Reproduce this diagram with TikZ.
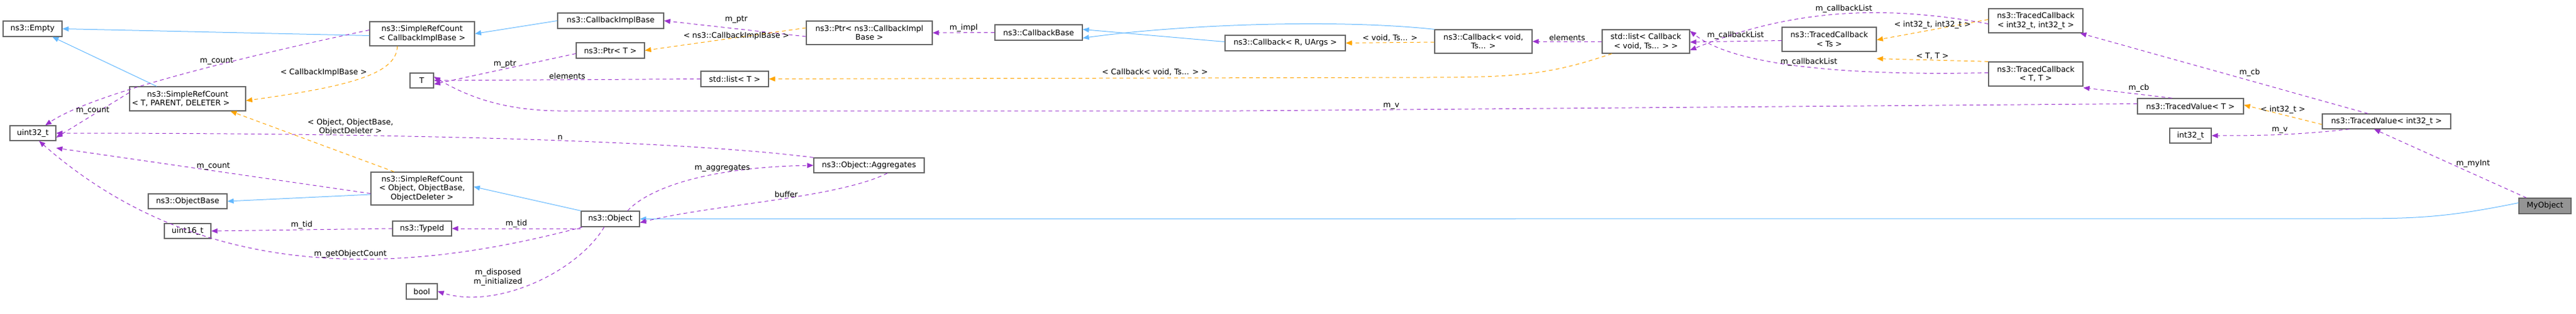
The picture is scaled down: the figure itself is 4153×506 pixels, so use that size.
\documentclass[tikz,border=0pt]{standalone}
\usepackage{fontspec}
\setmainfont{DejaVu Sans}
\usetikzlibrary{arrows.meta}
\definecolor{cpur}{HTML}{9A32CD}
\definecolor{corg}{HTML}{FFA500}
\definecolor{cblu}{HTML}{63B8FF}
\definecolor{cbrd}{HTML}{666666}
\begin{document}
\begin{tikzpicture}[x=1pt,y=-1pt,
  font=\fontsize{12.5}{14.5}\selectfont,
  box/.style={draw=cbrd,line width=1.3pt,fill=white,inner sep=0pt,align=center,minimum width=#1},
  box/.default=50,
  tip/.style={-{Triangle[length=10pt,width=8pt]}},
  inh/.style={tip,draw=cblu,line width=1pt},
  mem/.style={tip,draw=cpur,line width=1pt,dash pattern=on 6pt off 5pt},
  tpl/.style={tip,draw=corg,line width=1pt,dash pattern=on 6pt off 5pt},
  lab/.style={fill=none,inner sep=1pt,align=center}]
\useasboundingbox (0,0) rectangle (4153,506);
\node[box=95,minimum height=25] (empty) at (52.5,46.5) {ns3::Empty};
\node[box=74,minimum height=24] (u32) at (53,215) {uint32\_t};
\node[box=187,minimum height=39] (srcT) at (302.5,159.5) {ns3::SimpleRefCount\\\hspace*{-22pt}< T, PARENT, DELETER >};
\node[box=127,minimum height=24] (obase) at (302.5,325) {ns3::ObjectBase};
\node[box=75,minimum height=24] (u16) at (302.5,373) {uint16\_t};
\node[box=38,minimum height=24] (T) at (680,130) {T};
\node[box=169,minimum height=39] (srcC) at (680.5,54.5) {ns3::SimpleRefCount\\< CallbackImplBase >};
\node[box=165,minimum height=53] (srcO) at (680.5,304.5) {ns3::SimpleRefCount\\< Object, ObjectBase,\\ObjectDeleter >};
\node[box=95,minimum height=24] (tid) at (680.5,369) {ns3::TypeId};
\node[box=50,minimum height=25] (bool) at (680,470.5) {bool};
\node[box=171,minimum height=25] (cib) at (984.5,33.5) {ns3::CallbackImplBase};
\node[box=110,minimum height=25] (ptrT) at (984,81.5) {ns3::Ptr< T >};
\node[box=109,minimum height=25] (listT) at (1184.5,127.5) {std::list< T >};
\node[box=203,minimum height=38] (ptrC) at (1401.5,53) {ns3::Ptr< ns3::CallbackImpl\\Base >};
\node[box=178,minimum height=24] (aggr) at (1401,267) {ns3::Object::Aggregates};
\node[box=94,minimum height=25] (obj) at (984,353.5) {ns3::Object};
\node[box=141,minimum height=25] (cbase) at (1674.5,52.5) {ns3::CallbackBase};
\node[box=194,minimum height=25] (cbRU) at (2072,69.5) {ns3::Callback< R, UArgs >};
\node[box=157,minimum height=38] (cbV) at (2391.5,67) {ns3::Callback< void,\\Ts... >};
\node[box=141,minimum height=38] (listCB) at (2653.5,67) {std::list< Callback\\< void, Ts... > >};
\node[box=152,minimum height=39] (tcII) at (3282,33.5) {ns3::TracedCallback\\< int32\_t, int32\_t >};
\node[box=152,minimum height=39] (tcTs) at (2949,63.5) {ns3::TracedCallback\\< Ts >};
\node[box=152,minimum height=39] (tcTT) at (3282,119.5) {ns3::TracedCallback\\< T, T >};
\node[box=171,minimum height=25] (tvT) at (3531.5,171.5) {ns3::TracedValue< T >};
\node[box=207,minimum height=24] (tvI) at (3847.5,196) {ns3::TracedValue< int32\_t >};
\node[box=67,minimum height=24] (i32) at (3531.5,219) {int32\_t};
\node[box=84,minimum height=25,fill=black!42] (myo) at (4103,332.5) {MyObject};
% inheritance
\draw[inh] ([yshift=-3pt]srcC.west) -- (empty.east);
\draw[inh] ([xshift=-50pt]srcT.north) -- ([xshift=32pt]empty.south);
\draw[inh] (srcO.west |- 0,314) -- (obase.east);
\draw[inh] (cib.west) -- (srcC.east);
\draw[inh] (obj.north west) -- ([yshift=3pt]srcO.east);
\draw[inh] (cbV.north west) .. controls (2150,30) and (1900,40) .. ([yshift=-9pt]cbase.east);
\draw[inh] ([yshift=2pt]cbRU.west) -- ([yshift=5pt]cbase.east);
\draw[inh] ([yshift=5pt]myo.west) .. controls (3950,350) and (3900,353) .. (3800,353) -- (obj.east);
% members
\draw[mem] ([yshift=6pt]srcC.west) .. controls (400,90) and (150,150) .. ([xshift=20pt]u32.north) node[lab,pos=0.4,above] {m\_count};
\draw[mem] ([yshift=10pt]srcT.west) -- ([yshift=-7pt]u32.east) node[lab,midway,above] {m\_count};
\draw[mem] (aggr.north west) .. controls (1200,240) and (900,215) .. (u32.east) node[lab,pos=0.55,above] {n};
\draw[mem] ([yshift=-8pt]srcO.west) -- ([yshift=-12pt]u32.east |- 0,227) node[lab,midway,above] {m\_count};
\draw[mem] (tid.west) -- (u16.east) node[lab,midway,above] {m\_tid};
\draw[mem] ([xshift=-45pt]obj.south) .. controls (700,430) and (350,480) .. ([xshift=10pt]u32.south) node[lab,pos=0.45,above] {m\_getObjectCount};
\draw[mem] ([yshift=-6pt]ptrC.west) -- (cib.east);
\node[lab] at (1187,32) {m\_ptr};
\draw[mem] ([yshift=-5pt]ptrT.west) -- ([yshift=-6pt]T.east) node[lab,midway,above] {m\_ptr};
\draw[mem] (listT.west) -- (T.east) node[lab,midway,above] {elements};
\draw[mem] ([yshift=4pt]tvT.west) -- (2000,179) -- (900,179) .. controls (820,178) and (760,160) .. ([yshift=6pt]T.east);
\node[lab] at (2243,171) {m\_v};
\draw[mem] (tid.east -| obj.west) -- (tid.east) node[lab,midway,above] {m\_tid};
\draw[mem] ([xshift=-10pt]obj.south) .. controls (930,440) and (800,500) .. (bool.east) node[lab,pos=0.55,above left] {m\_disposed\\m\_initialized};
\draw[mem] ([xshift=-20pt]obj.north east) .. controls (1050,300) and (1150,270) .. (aggr.west) node[lab,pos=0.65,above] {m\_aggregates};
\draw[mem] ([xshift=-60pt]aggr.south east) .. controls (1350,320) and (1150,330) .. ([yshift=-6pt]obj.east) node[lab,pos=0.45,above] {buffer};
\draw[mem] (cbase.west) -- (ptrC.east) node[lab,midway,above] {m\_impl};
\draw[mem] (listCB.west) -- (cbV.east) node[lab,midway,above] {elements};
\draw[mem] ([yshift=-5pt]tcII.west) .. controls (3050,10) and (2900,10) .. ([yshift=-14pt]listCB.east) node[lab,pos=0.5,above] {m\_callbackList};
\draw[mem] ([yshift=-2pt]tcTs.west) -- ([yshift=-1pt]listCB.east);
\node[lab] at (2798,57) {m\_callbackList};
\draw[mem] ([yshift=2pt]tcTT.west) .. controls (3000,122) and (2800,110) .. ([yshift=17pt]listCB.east) node[lab,pos=0.5,above] {m\_callbackList};
\draw[mem] ([xshift=-30pt]tvT.north) -- ([yshift=-2pt]tcTT.south east) node[lab,midway,above right] {m\_cb};
\draw[mem] ([xshift=-30pt]tvI.north) -- ([xshift=-5pt]tcII.south east) node[lab,pos=0.45,above right] {m\_cb};
\draw[mem] ([xshift=-60pt]tvI.south) .. controls (3700,218) and (3650,219) .. (i32.east) node[lab,pos=0.5,above] {m\_v};
\draw[mem] ([xshift=-30pt]myo.north) -- ([xshift=-20pt]tvI.south) node[lab,midway,right=8pt] {m\_myInt};
% templates
\draw[tpl] ([xshift=-40pt]srcC.south) .. controls (640,120) and (560,140) .. ([yshift=-3pt]srcT.east) node[lab,pos=0.45,above left=-2pt] {< CallbackImplBase >};
\draw[tpl] ([xshift=-45pt]srcO.north) -- ([xshift=-25pt]srcT.south east) node[lab,pos=0.55,above right=4pt] {< Object, ObjectBase,\\ObjectDeleter >};
\draw[tpl] ([yshift=8pt]ptrC.west) -- (ptrT.east);
\node[lab] at (1187,58) {< ns3::CallbackImplBase >};
\draw[tpl] ([xshift=-55pt]listCB.south) .. controls (2500,120) and (2450,125) .. (2300,125) -- (listT.east);
\node[lab] at (1862,116) {< Callback< void, Ts... > >};
\draw[tpl] ([yshift=-1pt]cbV.west) -- (cbRU.east) node[lab,midway,above] {< void, Ts... >};
\draw[tpl] ([yshift=2pt]tcII.west) -- ([yshift=-1pt]tcTs.east) node[lab,midway,above] {< int32\_t, int32\_t >};
\draw[tpl] (tcTT.north west) -- ([yshift=-11pt]tcTs.south east) node[lab,midway,above] {< T, T >};
\draw[tpl] ([yshift=-5pt]tvI.west) -- ([yshift=2pt]tvT.east) node[lab,midway,above] {< int32\_t >};
\end{tikzpicture}
\end{document}
